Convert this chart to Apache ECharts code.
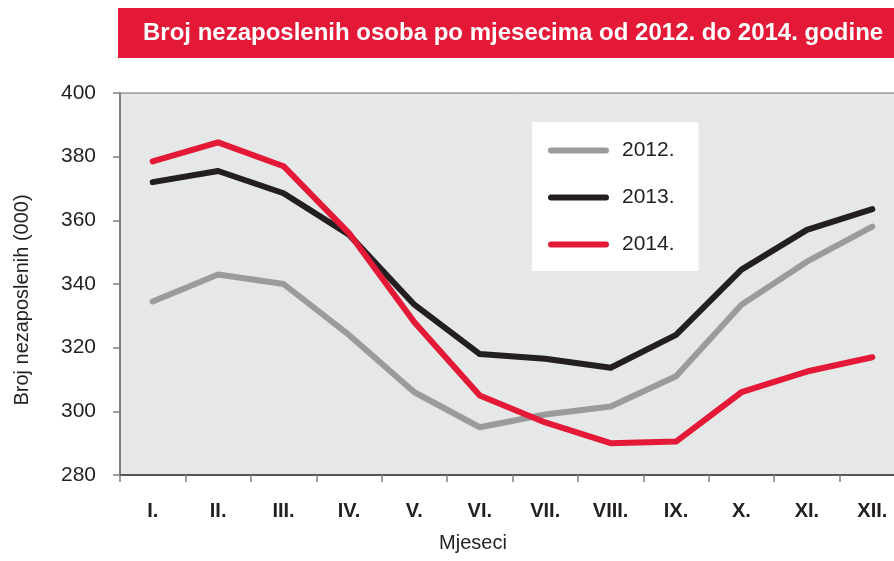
<!DOCTYPE html>
<html>
<head>
<meta charset="utf-8">
<script src="https://cdn.jsdelivr.net/npm/echarts@6/dist/echarts.min.js"></script>
<style>
  html, body { margin: 0; padding: 0; background: #fff; overflow: hidden; }
  /* the original plot runs past the right edge of the picture, so the canvas is a bit wider */
  #chart { width: 906px; height: 561px; }
</style>
</head>
<body>
<div id="chart"></div>
<script>
const months = ['I.', 'II.', 'III.', 'IV.', 'V.', 'VI.', 'VII.', 'VIII.', 'IX.', 'X.', 'XI.', 'XII.'];
const values2012 = [334.5, 343, 340, 324, 306, 295, 299, 301.5, 311, 333.5, 347, 358];
const values2013 = [372, 375.5, 368.5, 355.5, 333.5, 318, 316.5, 313.7, 324, 344.5, 357, 363.5];
const values2014 = [378.5, 384.5, 377, 356, 328, 305, 296.5, 290, 290.5, 306, 312.5, 317];
const yTicks = { min: 280, max: 400, step: 20 };

const chart = echarts.init(document.getElementById('chart'));
const font = 'Liberation Sans, Arial, sans-serif';
const legendIcon = 'path://M3,0 L58,0 A3,3 0 0 1 58,6 L3,6 A3,3 0 0 1 3,0 Z';

function lineSeries(name, data, color) {
  return {
    name: name,
    type: 'line',
    data: data,
    symbol: 'none',
    color: color,
    lineStyle: { width: 6, color: color, cap: 'round', join: 'round' },
    animation: false
  };
}

chart.setOption({
  textStyle: { fontFamily: font },
  title: {
    text: 'Broj nezaposlenih osoba po mjesecima od 2012. do 2014. godine',
    left: 118,
    top: 8,
    backgroundColor: '#e31937',
    padding: [12, 60, 12, 25],
    textStyle: { color: '#fff', fontSize: 24, fontWeight: 'bold', fontFamily: font, lineHeight: 26 }
  },
  legend: {
    orient: 'vertical',
    left: 532,
    top: 122,
    backgroundColor: '#fff',
    padding: [18, 24, 16, 16],
    icon: legendIcon,
    itemWidth: 61,
    itemHeight: 6,
    itemGap: 26,
    textStyle: { fontSize: 21, color: '#231f20', padding: [0, 0, 0, 8], fontFamily: font },
    data: ['2012.', '2013.', '2014.']
  },
  grid: {
    left: 120,
    top: 93,
    right: 1,
    bottom: 86,
    show: true,
    backgroundColor: '#e6e7e7',
    borderColor: '#6d6e70',
    borderWidth: 1
  },
  xAxis: {
    type: 'category',
    data: months,
    boundaryGap: true,
    axisLine: { lineStyle: { color: '#3a3a3a', width: 1.5 } },
    axisTick: { show: true, length: 7, lineStyle: { color: '#808080', width: 1.5 } },
    axisLabel: { fontSize: 20, fontWeight: 'bold', color: '#231f20', margin: 26, fontFamily: font },
    splitLine: { show: false }
  },
  yAxis: {
    type: 'value',
    min: yTicks.min,
    max: yTicks.max,
    interval: yTicks.step,
    axisLine: { show: true, lineStyle: { color: '#6d6e70', width: 1.5 } },
    axisTick: { show: true, length: 7, lineStyle: { color: '#808080', width: 1.5 } },
    axisLabel: { fontSize: 21, color: '#231f20', margin: 24, fontFamily: font },
    splitLine: { show: false }
  },
  graphic: [
    {
      type: 'text',
      x: 22,
      y: 300,
      rotation: Math.PI / 2,
      style: {
        text: 'Broj nezaposlenih (000)',
        fontSize: 20,
        fontFamily: font,
        fill: '#231f20',
        align: 'center',
        verticalAlign: 'middle'
      }
    },
    {
      type: 'text',
      x: 473,
      y: 543,
      style: {
        text: 'Mjeseci',
        fontSize: 20,
        fontFamily: font,
        fill: '#231f20',
        align: 'center',
        verticalAlign: 'middle'
      }
    }
  ],
  series: [
    lineSeries('2012.', values2012, '#9a9b9c'),
    lineSeries('2013.', values2013, '#231f20'),
    lineSeries('2014.', values2014, '#e31937')
  ]
});
</script>
</body>
</html>
